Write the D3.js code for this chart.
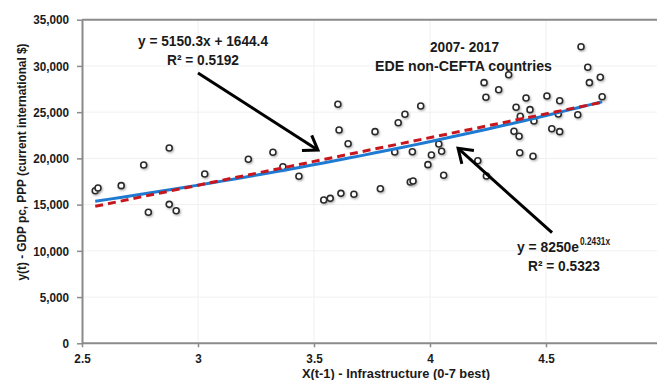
<!DOCTYPE html>
<html>
<head>
<meta charset="utf-8">
<script src="https://cdn.jsdelivr.net/npm/d3@7"></script>
<style>
  html, body { margin: 0; padding: 0; background: #fff; }
  svg { display: block; }
  text { font-family: 'Liberation Sans', Arial, sans-serif; font-weight: bold; fill: #1a1a1a; }
</style>
</head>
<body>
<div id="chart"></div>
<script>
// ── data ─────────────────────────────────────────────────
const infra = [
  2.557, 2.569, 2.669, 2.766, 2.876, 2.786, 2.876, 2.906, 3.029, 3.217,
  3.323, 3.366, 3.435, 3.603, 3.608, 3.647, 3.542, 3.570, 3.616, 3.672,
  3.763, 3.863, 3.892, 3.960, 3.848, 3.924, 4.006, 4.038, 4.050, 3.991,
  4.059, 3.915, 3.927, 3.786, 4.233, 4.241, 4.296, 4.339, 4.371, 4.414,
  4.389, 4.431, 4.448, 4.362, 4.384, 4.387, 4.444, 4.504, 4.559, 4.553,
  4.525, 4.559, 4.637, 4.651, 4.680, 4.687, 4.734, 4.742, 4.206, 4.243
];
const gdp = [
  16500, 16800, 17050, 19280, 21120, 14170, 15030, 14340, 18310, 19900,
  20660, 19100, 18060, 25850, 23070, 21590, 15500, 15680, 16220, 16120,
  22890, 23860, 24770, 25670, 20690, 20720, 20370, 21560, 20770, 19320,
  18170, 17450, 17550, 16720, 28190, 26610, 27430, 29050, 25530, 26530,
  24550, 25270, 24040, 22930, 22390, 20610, 20230, 26750, 26240, 24800,
  23210, 22890, 24720, 32080, 29850, 28190, 28770, 26670, 19750, 18090
];

const xTicks = [2.5, 3, 3.5, 4, 4.5];
const xTickLabels = ['2.5', '3', '3.5', '4', '4.5'];
const yTicks = [0, 5000, 10000, 15000, 20000, 25000, 30000, 35000];

// trend lines as printed on the chart
const linSlope = 5150.3, linIntercept = 1644.4;
const expA = 8250, expB = 0.2431;

// ── layout ───────────────────────────────────────────────
const W = 657, H = 380;
const x = d3.scaleLinear().domain([2.5, 5]).range([82, 662]);
const y = d3.scaleLinear().domain([0, 35000]).range([343.3, 19.7]);

const svg = d3.select('#chart').append('svg')
  .attr('width', W).attr('height', H)
  .attr('viewBox', `0 0 ${W} ${H}`);

const defs = svg.append('defs');
const shadow = defs.append('filter').attr('id', 'shadow')
  .attr('x', '-50%').attr('y', '-50%').attr('width', '200%').attr('height', '200%');
shadow.append('feDropShadow')
  .attr('dx', 1).attr('dy', 1.2).attr('stdDeviation', 0.9)
  .attr('flood-color', '#777').attr('flood-opacity', 0.6);

// squeeze text a bit (original uses a narrow bold face)
function squeeze(sel, k) {
  sel.each(function () {
    const w = this.getComputedTextLength();
    d3.select(this).attr('textLength', w * k).attr('lengthAdjust', 'spacingAndGlyphs');
  });
}

// ── grid ─────────────────────────────────────────────────
svg.append('g').selectAll('line')
  .data(yTicks.slice(1, -1))
  .join('line')
  .attr('x1', x(2.5)).attr('x2', W)
  .attr('y1', d => y(d)).attr('y2', d => y(d))
  .attr('stroke', '#f0f0f0').attr('stroke-width', 1);

svg.append('g').selectAll('line')
  .data(xTicks.slice(1))
  .join('line')
  .attr('x1', d => x(d)).attr('x2', d => x(d))
  .attr('y1', y(35000)).attr('y2', y(0))
  .attr('stroke', '#f0f0f0').attr('stroke-width', 1);

// top frame
svg.append('line')
  .attr('x1', x(2.5)).attr('x2', W)
  .attr('y1', y(35000)).attr('y2', y(35000))
  .attr('stroke', '#8a8a8a').attr('stroke-width', 2);

// ── axes ─────────────────────────────────────────────────
const xAxis = svg.append('g')
  .attr('transform', `translate(0,${y(0)})`)
  .call(d3.axisBottom(x).tickValues(xTicks)
    .tickFormat((d, i) => xTickLabels[i]).tickSize(4).tickSizeOuter(0));
xAxis.select('.domain').attr('stroke', '#8a8a8a').attr('stroke-width', 2)
  .attr('d', `M${x(2.5)},0H${W}`);
xAxis.selectAll('.tick line').attr('stroke', '#8a8a8a').attr('stroke-width', 1.5);
xAxis.selectAll('.tick text')
  .attr('font-size', 13).attr('y', 19.5).attr('dy', null).attr('fill', '#1a1a1a');

const yAxis = svg.append('g')
  .attr('transform', `translate(${x(2.5)},0)`)
  .call(d3.axisLeft(y).tickValues(yTicks)
    .tickFormat(d3.format(',')).tickSize(5).tickSizeOuter(0));
yAxis.select('.domain').attr('stroke', '#8a8a8a').attr('stroke-width', 2);
yAxis.selectAll('.tick line').attr('stroke', '#8a8a8a').attr('stroke-width', 1.5);
yAxis.selectAll('.tick text')
  .attr('font-size', 13).attr('x', -13).attr('fill', '#1a1a1a');
svg.selectAll('.tick text').attr('font-family', null).attr('font-weight', 'bold');
squeeze(svg.selectAll('.tick text'), 0.9);

// axis titles
svg.append('text')
  .attr('x', 396).attr('y', 377.5)
  .attr('text-anchor', 'middle').attr('font-size', 13.5)
  .attr('textLength', 188).attr('lengthAdjust', 'spacingAndGlyphs')
  .text('X(t-1) - Infrastructure (0-7 best)');

svg.append('text')
  .attr('transform', 'translate(26,162) rotate(-90)')
  .attr('text-anchor', 'middle').attr('font-size', 13)
  .attr('textLength', 237).attr('lengthAdjust', 'spacingAndGlyphs')
  .text('y(t) - GDP pc, PPP (current international $)');

// ── points ───────────────────────────────────────────────
const pts = infra.map((v, i) => ({ x: v, y: gdp[i] }));
svg.append('g').selectAll('circle')
  .data(pts)
  .join('circle')
  .attr('cx', d => x(d.x)).attr('cy', d => y(d.y))
  .attr('r', 3)
  .attr('fill', '#fff')
  .attr('stroke', '#2a2a2a')
  .attr('stroke-width', 1.6)
  .attr('filter', 'url(#shadow)');

// ── trend lines ──────────────────────────────────────────
const xMin = d3.min(infra), xMax = d3.max(infra);
const trendX = d3.range(0, 41).map(i => xMin + (xMax - xMin) * i / 40);

svg.append('path')
  .datum(trendX)
  .attr('fill', 'none')
  .attr('stroke', '#1f7bd2')
  .attr('stroke-width', 3)
  .attr('d', d3.line().x(d => x(d)).y(d => y(expA * Math.exp(expB * d))));

svg.append('path')
  .datum(trendX)
  .attr('fill', 'none')
  .attr('stroke', '#c8161d')
  .attr('stroke-width', 3)
  .attr('stroke-dasharray', '8,5')
  .attr('d', d3.line().x(d => x(d)).y(d => y(linSlope * d + linIntercept)));

// ── annotations ──────────────────────────────────────────
function arrow(x0, y0, x1, y1) {
  const ax = x(x0), ay = y(y0), bx = x(x1), by = y(y1);
  const ang = Math.atan2(by - ay, bx - ax);
  const len = 16, spread = 0.6;
  svg.append('line')
    .attr('x1', ax).attr('y1', ay).attr('x2', bx - 2 * Math.cos(ang)).attr('y2', by - 2 * Math.sin(ang))
    .attr('stroke', '#000').attr('stroke-width', 3);
  const p1 = [bx - len * Math.cos(ang - spread), by - len * Math.sin(ang - spread)];
  const p2 = [bx - len * Math.cos(ang + spread), by - len * Math.sin(ang + spread)];
  svg.append('path')
    .attr('d', `M${p1[0]},${p1[1]}L${bx},${by}L${p2[0]},${p2[1]}`)
    .attr('fill', 'none').attr('stroke', '#000').attr('stroke-width', 3)
    .attr('stroke-linejoin', 'miter');
}
arrow(3.0, 29230, 3.517, 20900);
arrow(4.526, 11960, 4.121, 21090);

const note = (px, py, txt, size, w) => svg.append('text')
  .attr('x', px).attr('y', py).attr('text-anchor', 'middle')
  .attr('font-size', size)
  .attr('textLength', w).attr('lengthAdjust', 'spacingAndGlyphs')
  .text(txt);

note(203, 46, 'y = 5150.3x  + 1644.4', 15, 130);
note(203, 65, 'R² = 0.5192', 15, 72);
note(464.5, 51.5, '2007- 2017', 15, 69);
note(463.5, 71, 'EDE  non-CEFTA countries', 15, 177);

svg.append('text')
  .attr('x', 517).attr('y', 252).attr('font-size', 15)
  .attr('textLength', 62).attr('lengthAdjust', 'spacingAndGlyphs')
  .text('y = 8250e');
svg.append('text')
  .attr('x', 580).attr('y', 245).attr('font-size', 10)
  .attr('textLength', 30).attr('lengthAdjust', 'spacingAndGlyphs')
  .text('0.2431x');
note(564, 271, 'R² = 0.5323', 15, 72);
</script>
</body>
</html>
